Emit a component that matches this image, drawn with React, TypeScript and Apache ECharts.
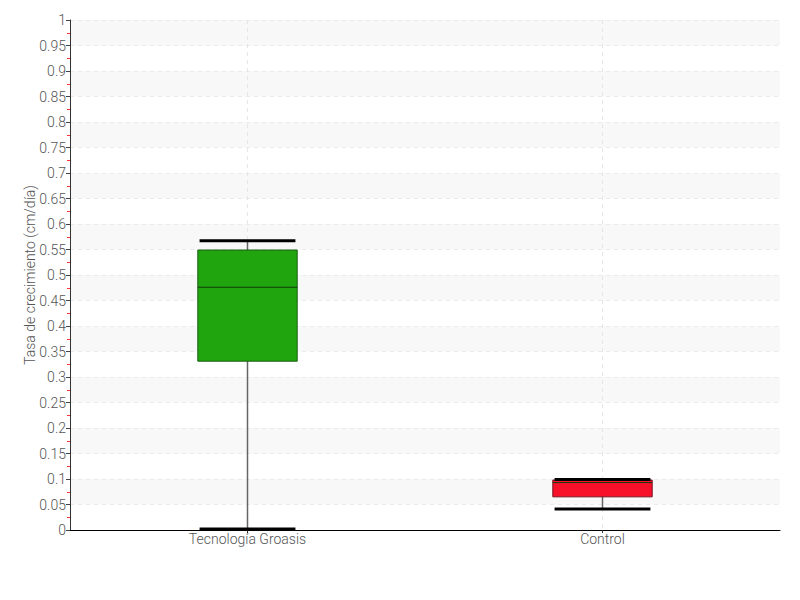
import React, { useEffect, useRef } from "react";
import * as echarts from "echarts";

const categories = ["Tecnología Groasis", "Control"];
// [min, Q1, median, Q3, max]
const boxValues = [
  [0.002, 0.331, 0.476, 0.549, 0.567],
  [0.041, 0.065, 0.093, 0.098, 0.099],
];
const boxColors = ["#21a50f", "#f8102a"];
const boxBorders = ["#1a5e12", "#7a1020"];
const yMin = 0;
const yMax = 1;
const yInterval = 0.05;
const yAxisName = "Tasa de crecimiento (cm/día)";

const FONT = "Roboto, 'Noto Sans', sans-serif";

export default function App() {
  const ref = useRef<HTMLDivElement>(null);
  useEffect(() => {
    if (!ref.current) return;
    const chart = echarts.init(ref.current, null, { renderer: "svg" });
    const data = boxValues.map((v, i) => [i, ...v]);
    chart.setOption({
      animation: false,
      grid: { left: 70, right: 20, top: 20, bottom: 70 },
      xAxis: {
        type: "category",
        data: categories,
        boundaryGap: true,
        axisLine: { show: true, lineStyle: { color: "#000", width: 1 } },
        axisTick: { show: true, alignWithLabel: true, length: 3, lineStyle: { color: "#333" } },
        axisLabel: { color: "#555", fontSize: 14, fontWeight: 300, fontFamily: FONT, margin: 2 },
        splitLine: { show: false },
      },
      yAxis: {
        type: "value",
        min: yMin,
        max: yMax,
        interval: yInterval,
        name: yAxisName,
        nameLocation: "middle",
        nameGap: 33,
        nameMoveOverlap: false,
        nameTextStyle: { color: "#555", fontSize: 14, fontWeight: 300, fontFamily: FONT },
        axisLine: { show: true, lineStyle: { color: "#333", width: 1 } },
        axisTick: { show: true, length: 4, lineStyle: { color: "#444" } },
        minorTick: { show: true, splitNumber: 2, length: 3, lineStyle: { color: "#ff3333" } },
        axisLabel: { color: "#555", fontSize: 14, fontWeight: 300, fontFamily: FONT, margin: 4 },
        splitLine: { show: true, lineStyle: { color: "#ebebeb", type: [4, 4] } },
        splitArea: { show: true, areaStyle: { color: ["rgba(255,255,255,0)", "#f8f8f8"] } },
      },
      series: [
        {
          type: "custom",
          data,
          renderItem: (params: any, api: any) => {
            const idx = api.value(0);
            const mn = api.value(1);
            const q1 = api.value(2);
            const med = api.value(3);
            const q3 = api.value(4);
            const mx = api.value(5);
            const bandW = api.size([1, 0])[0];
            const bw = bandW * 0.28;
            const cw = bandW * 0.27;
            const top = api.coord([idx, yMax]);
            const bottom = api.coord([idx, yMin]);
            const pMin = api.coord([idx, mn]);
            const pQ1 = api.coord([idx, q1]);
            const pMed = api.coord([idx, med]);
            const pQ3 = api.coord([idx, q3]);
            const pMax = api.coord([idx, mx]);
            const x = pMed[0];
            const i = params.dataIndex;
            return {
              type: "group",
              children: [
                {
                  type: "line",
                  shape: { x1: x, y1: top[1], x2: x, y2: bottom[1] },
                  style: { stroke: "#e6e6e6", lineWidth: 1, lineDash: [4, 4] },
                },
                {
                  type: "line",
                  shape: { x1: x, y1: pMin[1], x2: x, y2: pMax[1] },
                  style: { stroke: "#666", lineWidth: 1.5 },
                },
                {
                  type: "rect",
                  shape: { x: x - bw / 2, y: pQ3[1], width: bw, height: pQ1[1] - pQ3[1] },
                  style: { fill: boxColors[i], stroke: boxBorders[i], lineWidth: 1 },
                },
                {
                  type: "line",
                  shape: { x1: x - bw / 2, y1: pMed[1], x2: x + bw / 2, y2: pMed[1] },
                  style: { stroke: "#123d0c", lineWidth: 1 },
                },
                {
                  type: "line",
                  shape: { x1: x - cw / 2, y1: pMax[1], x2: x + cw / 2, y2: pMax[1] },
                  style: { stroke: "#000", lineWidth: 3 },
                },
                {
                  type: "line",
                  shape: { x1: x - cw / 2, y1: pMin[1], x2: x + cw / 2, y2: pMin[1] },
                  style: { stroke: "#000", lineWidth: 3 },
                },
              ],
            };
          },
        },
      ],
    });
    return () => chart.dispose();
  }, []);
  return (
    <div
      ref={ref}
      style={{ position: "fixed", left: 0, top: 0, width: 800, height: 600, background: "#fff" }}
    />
  );
}
